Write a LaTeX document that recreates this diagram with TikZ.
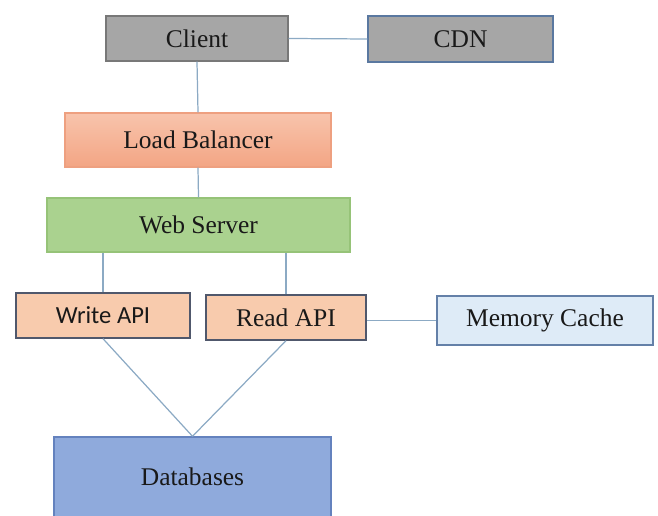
\documentclass[tikz,border=0pt]{standalone}
\usepackage{fontspec}
\setmainfont{Liberation Serif}
\newfontfamily\apifont{Carlito}
\usetikzlibrary{positioning}
\definecolor{boxgray}{RGB}{166,166,166}
\definecolor{graydraw}{RGB}{120,120,120}
\definecolor{cdndraw}{RGB}{90,120,160}
\definecolor{lbtop}{RGB}{248,196,172}
\definecolor{lbbottom}{RGB}{243,165,132}
\definecolor{lbdraw}{RGB}{238,160,128}
\definecolor{webfill}{RGB}{170,210,143}
\definecolor{webdraw}{RGB}{150,195,120}
\definecolor{apifill}{RGB}{248,203,173}
\definecolor{apidraw}{RGB}{80,88,108}
\definecolor{cachefill}{RGB}{222,235,247}
\definecolor{cachedraw}{RGB}{100,128,168}
\definecolor{dbfill}{RGB}{143,170,220}
\definecolor{dbdraw}{RGB}{100,130,190}
\definecolor{linkcol}{RGB}{140,170,196}
\definecolor{textcol}{RGB}{25,25,25}

\begin{document}
\begin{tikzpicture}[x=0.02cm, y=-0.02cm,
    box/.style={draw, line width=0.8pt, inner sep=0pt, text=textcol, font=\fontsize{14.5}{16}\selectfont},
    graybox/.style={box, fill=boxgray, draw=graydraw},
    apibox/.style={box, fill=apifill, draw=apidraw, minimum height=0.9cm},
    link/.style={draw=linkcol, line width=0.7pt}]
    \useasboundingbox (0,0) rectangle (658,516);

    \node[graybox, minimum width=3.64cm, minimum height=0.9cm] (client) at (197,38.5) {Client};
    \node[graybox, draw=cdndraw, minimum width=3.7cm, minimum height=0.92cm] (cdn) at (460.5,39) {CDN};
    \node[box, draw=lbdraw, top color=lbtop, bottom color=lbbottom, minimum width=5.32cm, minimum height=1.08cm] (lb) at (198,140) {Load Balancer};
    \node[box, fill=webfill, draw=webdraw, minimum width=6.06cm, minimum height=1.08cm] (web) at (198.5,225) {Web Server};
    \node[apibox, minimum width=3.48cm, font=\apifont\fontsize{14}{16}\selectfont] (write) at (103,315.5) {Write API};
    \node[apibox, minimum width=3.2cm] (read) at (286,317.5) {Read API};
    \node[box, fill=cachefill, draw=cachedraw, minimum width=4.32cm, minimum height=0.98cm] (cache) at (545,320.5) {Memory Cache};
    \node[box, fill=dbfill, draw=dbdraw, minimum width=5.54cm, minimum height=1.6cm] (db) at (192.5,477) {Databases};

    \draw[link] (client.east) -- (cdn.west);
    \draw[link] (client.south) -- (lb.north);
    \draw[link] (lb.south) -- (web.north);
    \draw[link] (write.north) -- (write.north |- web.south);
    \draw[link] (read.north) -- (read.north |- web.south);
    \draw[link] (cache.west) -- (cache.west -| read.east);
    \draw[link] (write.south) -- (db.north);
    \draw[link] (read.south) -- (db.north);
\end{tikzpicture}
\end{document}
